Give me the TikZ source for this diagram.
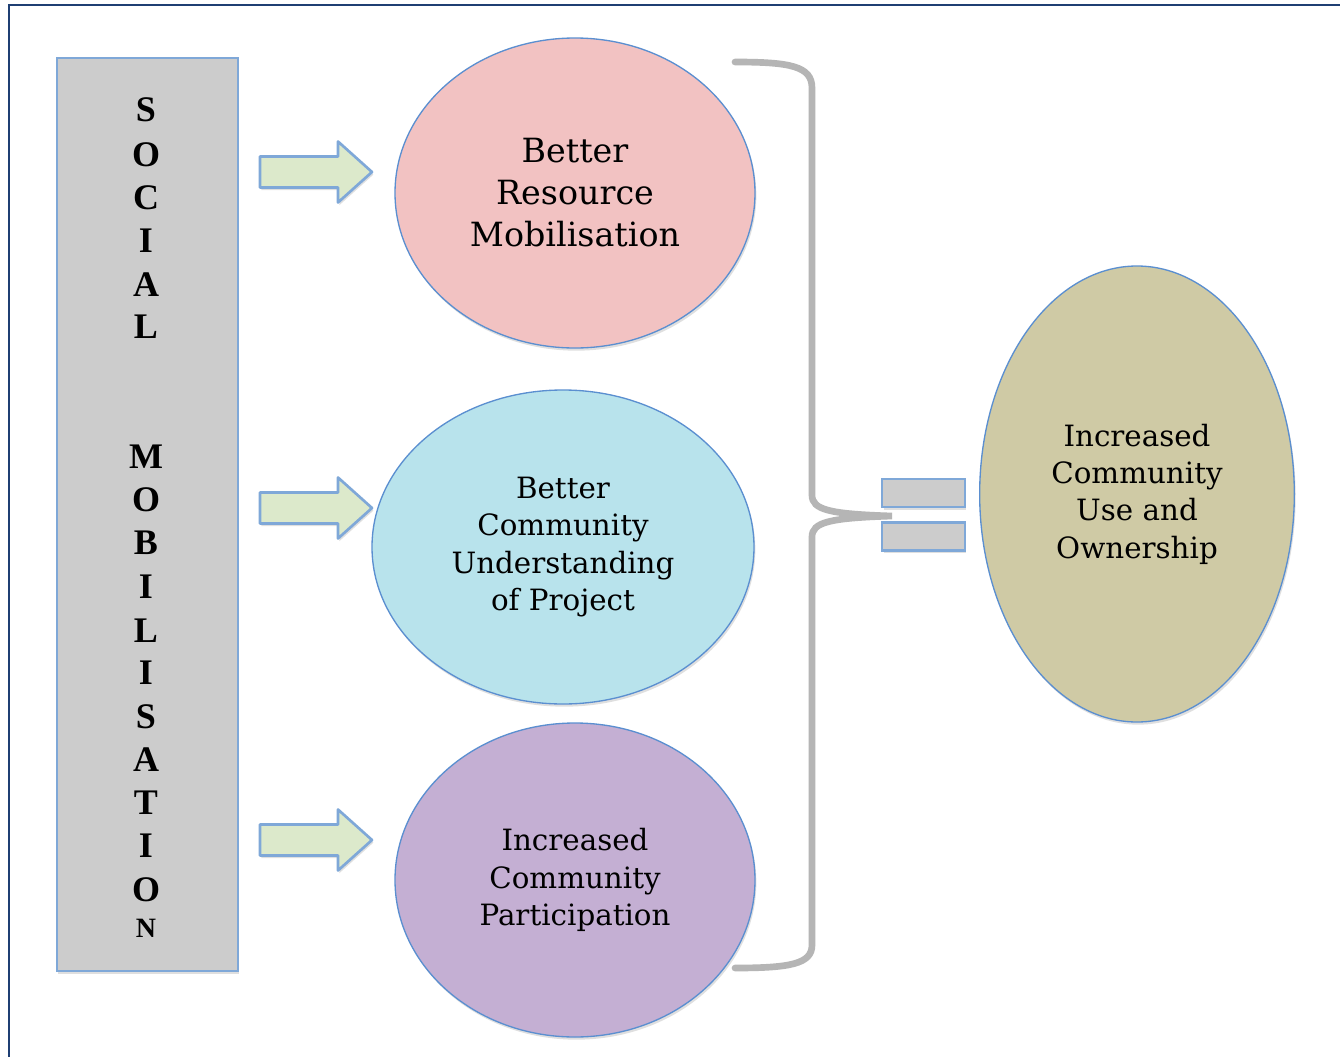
\documentclass[tikz,border=0pt]{standalone}
\usepackage{fontspec}
\setmainfont{DejaVu Serif}
\newfontfamily\barfont{Liberation Serif}
\usetikzlibrary{shadows,shapes.geometric}
\definecolor{framec}{HTML}{1F3F73}
\definecolor{edgeblue}{HTML}{5B8FD0}
\definecolor{baredge}{HTML}{7FA8D8}
\definecolor{greyfill}{HTML}{CCCCCC}
\definecolor{arrowfill}{HTML}{DCE9CB}
\definecolor{pinkfill}{HTML}{F2C2C2}
\definecolor{bluefill}{HTML}{B8E3EC}
\definecolor{purplefill}{HTML}{C4AFD3}
\definecolor{khakifill}{HTML}{CFCAA5}
\definecolor{bracec}{HTML}{B5B5B5}
\tikzset{
  shad/.style={drop shadow={shadow xshift=1pt,shadow yshift=-2pt,opacity=0.25}},
  blob/.style={ellipse, draw=edgeblue, line width=1pt, shad, align=center, inner sep=0pt},
  letter/.style={font=\barfont\bfseries\fontsize{27}{27}\selectfont, inner sep=0pt},
  blockarrow/.style={draw=baredge, fill=arrowfill, line width=2pt, line join=round, shad},
  eqbar/.style={draw=baredge, fill=greyfill, line width=1.8pt, shad, minimum width=62pt, minimum height=21pt, inner sep=0pt},
  txtA/.style={font=\fontsize{25}{31.5}\selectfont},
  txtB/.style={font=\fontsize{22}{28}\selectfont}
}
\begin{document}
\begin{tikzpicture}[x=0.75pt,y=-0.75pt]
\useasboundingbox (0,0) rectangle (1340,1057);
\fill[white] (0,0) rectangle (1340,1057);
\draw[framec, line width=2pt] (9,1057) -- (9,5) -- (1340,5);

% left bar
\node[draw=baredge, fill=greyfill, line width=2pt, shad, minimum width=135.75pt, minimum height=684.75pt, inner sep=0pt] (bar) at (147.5,514.5) {};
\foreach \t/\yy [count=\i] in {S/110,O/155,C/198,I/241,A/285,L/327,M/457,O/500,B/543,I/587,L/631,I/673,S/717,A/760,T/803,I/846,O/890}
  \node[letter] (l\i) at (146,\yy) {\t};
\node[letter, font=\barfont\bfseries\fontsize{21}{21}\selectfont] (l18) at (146,928) {N};

% block arrows
\foreach \yy in {172,508,840}{
  \draw[blockarrow] (260,\yy-15.5) -- (338,\yy-15.5) -- (338,\yy-30.5) -- (372,\yy) -- (338,\yy+30.5) -- (338,\yy+15.5) -- (260,\yy+15.5) -- cycle;
}

% ellipses
\node[blob, fill=pinkfill, minimum width=270pt, minimum height=232.5pt, txtA] (e1) at (575,193) {\raisebox{0pt}{}Better\\Resource\\Mobilisation};
\node[blob, fill=bluefill, minimum width=286.5pt, minimum height=235.5pt, txtB] (e2) at (563,547) {Better\\Community\\Understanding\\of Project};
\node[blob, fill=purplefill, minimum width=270pt, minimum height=235.5pt, txtB] (e3) at (575,880) {Increased\\Community\\Participation};
\node[blob, fill=khakifill, minimum width=236pt, minimum height=342pt, txtB] (e4) at (1137,494) {Increased\\Community\\Use and\\Ownership};

% brace
\coordinate (btop) at (735,62);
\coordinate (btip) at (892,516);
\coordinate (bbot) at (735,968);
\draw[bracec, line width=5pt, line cap=round]
  (btop) .. controls (790,62) and (812,66) .. (812,88) -- (812,495)
  .. controls (812,510) and (830,514) .. (btip)
  .. controls (830,518) and (812,522) .. (812,537) -- (812,945)
  .. controls (812,964) and (790,968) .. (bbot);

% equals sign
\node[eqbar] (q1) at (923.5,493) {};
\node[eqbar] (q2) at (923.5,536.5) {};
\end{tikzpicture}
\end{document}
